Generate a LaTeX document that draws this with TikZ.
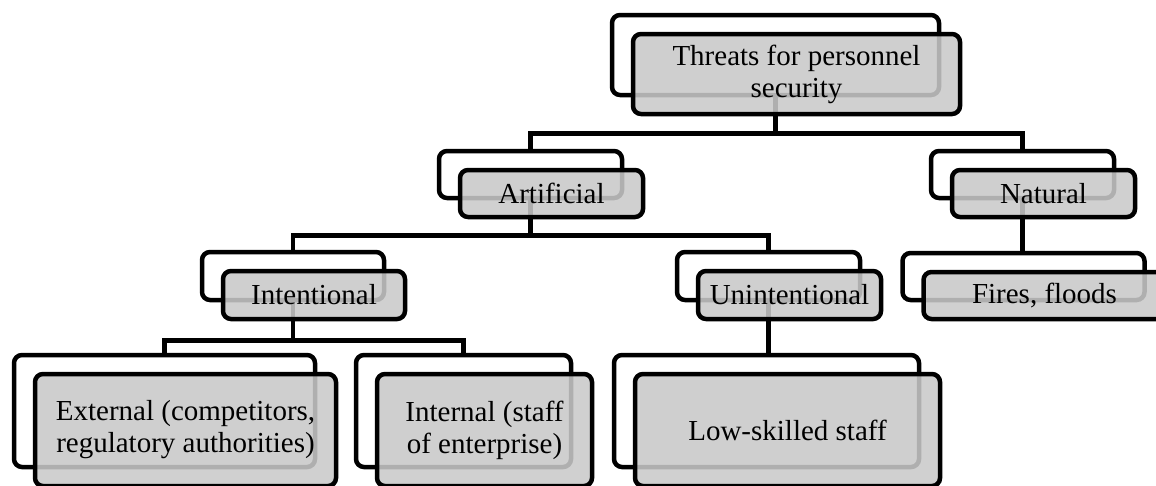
\documentclass[tikz,border=0pt]{standalone}
\usepackage{fontspec}
\setmainfont{Liberation Serif}
\definecolor{frontgray}{RGB}{201,201,201}
\begin{document}
\begin{tikzpicture}[x=1pt,y=-1pt,
  backbox/.style={draw=black, line width=4.5pt, rounded corners=8pt, fill=white, inner sep=0pt},
  frontbox/.style={draw=black, line width=4.5pt, rounded corners=8pt, fill=frontgray, fill opacity=0.875, text opacity=1, draw opacity=1, font=\fontsize{29}{32}\selectfont, align=center, inner sep=0pt},
  link/.style={line width=4.5pt}]
\useasboundingbox (0,0) rectangle (1156,485);
\clip (0,0) rectangle (1156,485);
% back boxes
\node[backbox, minimum width=327pt, minimum height=80pt] (rootb) at (775.5,55) {};
\node[backbox, minimum width=183pt, minimum height=47pt] (artb) at (530.5,174.5) {};
\node[backbox, minimum width=183pt, minimum height=47pt] (natb) at (1022.5,174.5) {};
\node[backbox, minimum width=182pt, minimum height=48pt] (intb) at (293,276) {};
\node[backbox, minimum width=183pt, minimum height=48pt] (unib) at (768.5,276) {};
\node[backbox, minimum width=242pt, minimum height=47pt] (firb) at (1023.5,276.5) {};
\node[backbox, minimum width=301pt, minimum height=112pt] (extb) at (164.5,411) {};
\node[backbox, minimum width=215pt, minimum height=112pt] (inb) at (463.5,411) {};
\node[backbox, minimum width=305pt, minimum height=112pt] (lowb) at (766.5,411) {};
% connectors
\draw[link] (rootb.south) -- ++(0,36) -| (artb.north);
\draw[link] (rootb.south) -- ++(0,36) -| (natb.north);
\draw[link] (artb.south) -- ++(0,35) -| (intb.north);
\draw[link] (artb.south) -- ++(0,35) -| (unib.north);
\draw[link] (natb.south) -- (natb.south |- firb.north);
\draw[link] (intb.south) -- ++(0,38) -| (extb.north);
\draw[link] (intb.south) -- ++(0,38) -| (inb.north);
\draw[link] (unib.south) -- (unib.south |- lowb.north);
% front boxes
\node[frontbox, minimum width=327pt, minimum height=80pt] (root) at (796.5,74) {Threats for personnel\\security};
\node[frontbox, minimum width=183pt, minimum height=47pt] (art) at (551.5,193.5) {Artificial};
\node[frontbox, minimum width=183pt, minimum height=47pt] (nat) at (1043.5,193.5) {Natural};
\node[frontbox, minimum width=182pt, minimum height=48pt] (int) at (314,295) {Intentional};
\node[frontbox, minimum width=183pt, minimum height=48pt] (uni) at (789.5,295) {Unintentional};
\node[frontbox, minimum width=242pt, minimum height=47pt] (fir) at (1044.5,295.5) {Fires, floods};
\node[frontbox, minimum width=301pt, minimum height=112pt] (ext) at (185.5,430) {External (competitors,\\regulatory authorities)};
\node[frontbox, minimum width=215pt, minimum height=112pt] (in) at (484.5,430) {Internal (staff\\of enterprise)};
\node[frontbox, minimum width=305pt, minimum height=112pt] (low) at (787.5,430) {Low-skilled staff};
\end{tikzpicture}
\end{document}
